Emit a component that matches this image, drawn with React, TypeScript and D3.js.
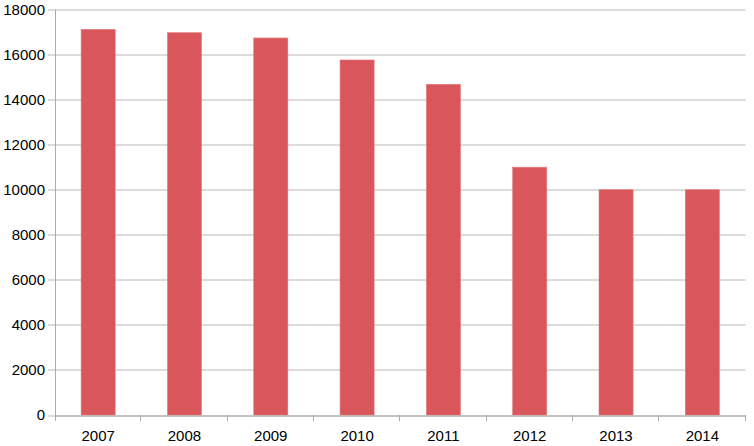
import { useRef, useEffect } from 'react';
import * as d3 from 'd3';

const years = ['2007', '2008', '2009', '2010', '2011', '2012', '2013', '2014'];
const values = [17120, 16970, 16735, 15760, 14680, 11000, 10000, 10000];
const yTicks = [0, 2000, 4000, 6000, 8000, 10000, 12000, 14000, 16000, 18000];

const W = 754;
const H = 446;
const MARGIN = { top: 9.5, right: 8.5, bottom: 31, left: 55 };

export default function App() {
  const svgRef = useRef<SVGSVGElement>(null);

  useEffect(() => {
    const svg = svgRef.current;
    if (!svg) return;
    const root = d3.select(svg);
    root.selectAll('*').remove();

    const innerW = W - MARGIN.left - MARGIN.right;
    const innerH = H - MARGIN.top - MARGIN.bottom;
    const font = '"Liberation Sans", Arial, sans-serif';

    const g = root.append('g').attr('transform', `translate(${MARGIN.left},${MARGIN.top})`);

    const x = d3.scaleBand<string>().domain(years).range([0, innerW]).padding(0);
    const y = d3.scaleLinear().domain([0, 18000]).range([innerH, 0]);

    // Grid lines
    g.selectAll('.grid')
      .data(yTicks)
      .join('line')
      .attr('x1', -7)
      .attr('x2', innerW)
      .attr('y1', (d) => Math.round(y(d)) + 0.5)
      .attr('y2', (d) => Math.round(y(d)) + 0.5)
      .attr('stroke', '#b8b8b8')
      .attr('stroke-width', 1);

    // Bars
    const barW = x.step() * 0.395;
    g.selectAll('.bar')
      .data(values)
      .join('rect')
      .attr('x', (_, i) => (x(years[i]) ?? 0) + x.step() / 2 - barW / 2)
      .attr('y', (d) => y(d))
      .attr('width', barW)
      .attr('height', (d) => innerH - y(d))
      .attr('fill', '#d9575a')
      .attr('stroke', '#e37a7c')
      .attr('stroke-width', 0.6);

    // Axis lines
    g.append('line')
      .attr('x1', 0.5).attr('x2', 0.5)
      .attr('y1', 0).attr('y2', innerH + 6)
      .attr('stroke', '#aaaaaa');
    g.append('line')
      .attr('x1', 0).attr('x2', innerW)
      .attr('y1', Math.round(innerH) + 0.5).attr('y2', Math.round(innerH) + 0.5)
      .attr('stroke', '#aaaaaa');

    // Category ticks
    const bounds = years.map((yr) => x(yr) ?? 0).concat([innerW]);
    g.selectAll('.xtick')
      .data(bounds.slice(1))
      .join('line')
      .attr('x1', (d) => Math.round(d) - 0.5)
      .attr('x2', (d) => Math.round(d) - 0.5)
      .attr('y1', innerH)
      .attr('y2', innerH + 6)
      .attr('stroke', '#aaaaaa');

    // Y labels
    g.selectAll('.ylab')
      .data(yTicks)
      .join('text')
      .attr('x', -10)
      .attr('y', (d) => y(d))
      .attr('dy', '0.35em')
      .attr('text-anchor', 'end')
      .attr('fill', '#000')
      .attr('font-family', font)
      .attr('font-size', '15px')
      .text((d) => String(d));

    // X labels
    g.selectAll('.xlab')
      .data(years)
      .join('text')
      .attr('x', (d) => (x(d) ?? 0) + x.step() / 2)
      .attr('y', innerH + 26)
      .attr('text-anchor', 'middle')
      .attr('fill', '#000')
      .attr('font-family', font)
      .attr('font-size', '15px')
      .text((d) => d);
  }, []);

  return (
    <div style={{ position: 'absolute', left: 0, top: 0, width: W, height: H, background: '#fff' }}>
      <svg ref={svgRef} width={W} height={H} style={{ display: 'block' }} />
    </div>
  );
}
